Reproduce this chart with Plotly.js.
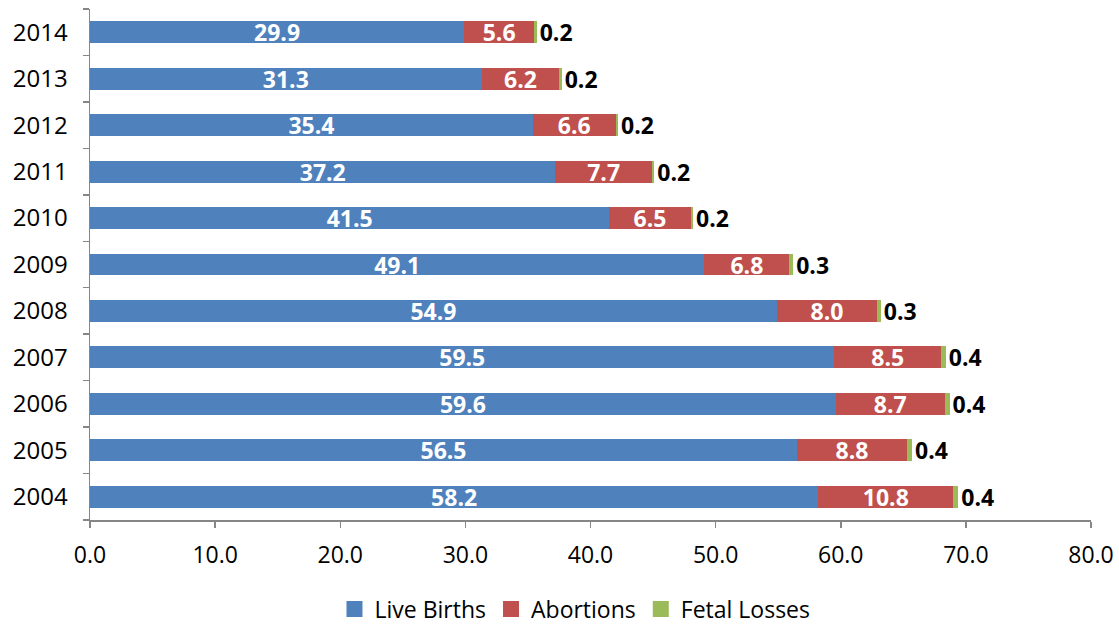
<!DOCTYPE html>
<html>
<head>
<meta charset="utf-8">
<script src="https://cdn.plot.ly/plotly-3.0.1.min.js"></script>
<style>html,body{margin:0;padding:0;background:#fff;}#chart{width:1119px;height:624px;}</style>
</head>
<body>
<div id="chart"></div>
<script>
const years = ["2004","2005","2006","2007","2008","2009","2010","2011","2012","2013","2014"];
const liveBirths = [58.2,56.5,59.6,59.5,54.9,49.1,41.5,37.2,35.4,31.3,29.9];
const abortions = [10.8,8.8,8.7,8.5,8.0,6.8,6.5,7.7,6.6,6.2,5.6];
const fetalLosses = [0.4,0.4,0.4,0.4,0.3,0.3,0.2,0.2,0.2,0.2,0.2];
const seriesNames = ['Live Births','Abortions','Fetal Losses'];
const seriesColors = ['#4F81BD','#C0504D','#9BBB59'];
const xTicks = [0,10,20,30,40,50,60,70,80];

const FONT = "Open Sans, Liberation Sans, sans-serif";
function trace(i, vals, pos, txtColor){
  return {
    type: 'bar', orientation: 'h', name: seriesNames[i],
    y: years, x: vals,
    marker: {color: seriesColors[i], line: {width: 0}},
    text: vals.map(v => v.toFixed(1)),
    textposition: pos,
    insidetextanchor: 'middle',
    constraintext: 'none',
    cliponaxis: false,
    textfont: {family: FONT, size: 23, color: txtColor, weight: 'bold'},
    showlegend: false,
    hoverinfo: 'x+name'
  };
}
const data = [
  trace(0, liveBirths, 'inside', '#ffffff'),
  trace(1, abortions, 'inside', '#ffffff'),
  trace(2, fetalLosses, 'outside', '#000000')
];
// legend entries with larger square swatches
seriesNames.forEach((n, i) => {
  data.push({
    type: 'scatter', mode: 'markers', name: n,
    x: [null], y: [null],
    marker: {symbol: 'square', size: 16, color: seriesColors[i], line: {width: 0}},
    showlegend: true, hoverinfo: 'skip'
  });
});
const layout = {
  width: 1119, height: 624,
  margin: {l: 90, r: 28, t: 9, b: 104, pad: 0, autoexpand: false},
  barmode: 'stack',
  bargap: 0.53,
  paper_bgcolor: '#ffffff', plot_bgcolor: '#ffffff',
  font: {family: FONT, size: 23, color: '#000000'},
  xaxis: {
    range: [0, 80], tickvals: xTicks, ticktext: xTicks.map(v => v.toFixed(1)),
    showgrid: false, zeroline: false,
    showline: true, linecolor: '#868686', linewidth: 1.5,
    ticks: 'outside', ticklen: 6, tickcolor: '#868686', tickwidth: 1.5,
    tickfont: {family: FONT, size: 23, color: '#000000'},
    ticklabelstandoff: 8,
    automargin: false,
    fixedrange: true
  },
  yaxis: {
    type: 'category',
    showgrid: false, zeroline: false,
    showline: true, linecolor: '#868686', linewidth: 1.5,
    ticks: 'outside', tickson: 'boundaries', ticklen: 6, tickcolor: '#868686', tickwidth: 1.5,
    tickfont: {family: FONT, size: 24, color: '#000000'},
    ticklabelstandoff: 16,
    automargin: false,
    fixedrange: true
  },
  showlegend: true,
  legend: {
    orientation: 'h', x: 0.4845, xanchor: 'center',
    yref: 'container', y: 0.024, yanchor: 'middle',
    font: {family: FONT, size: 23, color: '#000000'},
    itemwidth: 30, traceorder: 'normal', itemsizing: 'trace'
  }
};
Plotly.newPlot('chart', data, layout, {displayModeBar: false, staticPlot: true});
</script>
</body>
</html>
